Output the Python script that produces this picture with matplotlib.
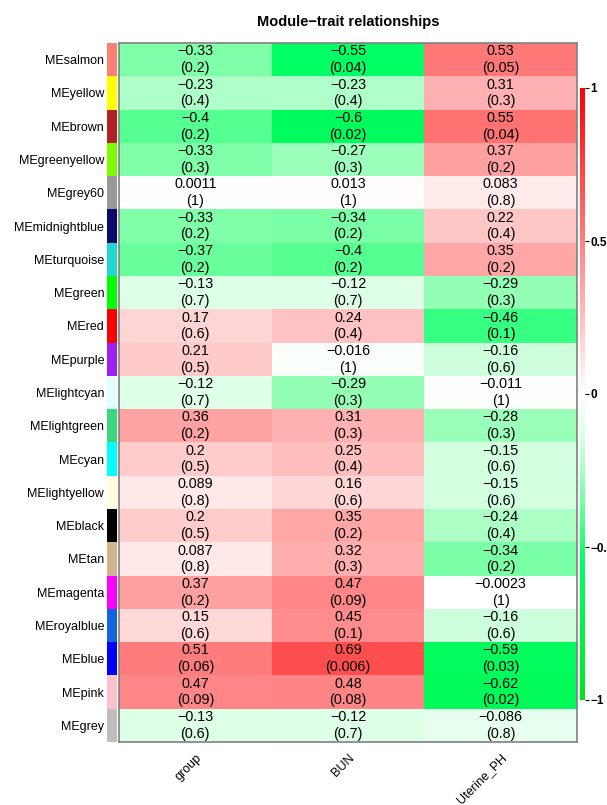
import numpy as np
import matplotlib
matplotlib.use("Agg")
import matplotlib.pyplot as plt
from matplotlib.colors import LinearSegmentedColormap

plt.rcParams['font.family'] = ['Liberation Sans', 'DejaVu Sans']

modules = ['salmon', 'yellow', 'brown', 'greenyellow', 'grey60', 'midnightblue',
           'turquoise', 'green', 'red', 'purple', 'lightcyan', 'lightgreen', 'cyan',
           'lightyellow', 'black', 'tan', 'magenta', 'royalblue', 'blue', 'pink', 'grey']
module_colors = ['#fa8072', '#ffff00', '#b22222', '#7cfc00', '#999999', '#0b0b6e',
                 '#20d8d0', '#00ff00', '#ff0000', '#a020f0', '#e0ffff', '#3cd67c', '#00ffff',
                 '#fffde0', '#000000', '#d2b48c', '#ff00ff', '#1464dc', '#0000ff', '#ffc0cb', '#bebebe']
traits = ['group', 'BUN', 'Uterine_PH']

cor_group = [-0.33, -0.23, -0.4, -0.33, 0.0011, -0.33, -0.37, -0.13, 0.17, 0.21, -0.12,
             0.36, 0.2, 0.089, 0.2, 0.087, 0.37, 0.15, 0.51, 0.47, -0.13]
cor_bun = [-0.55, -0.23, -0.6, -0.27, 0.013, -0.34, -0.4, -0.12, 0.24, -0.016, -0.29,
           0.31, 0.25, 0.16, 0.35, 0.32, 0.47, 0.45, 0.69, 0.48, -0.12]
cor_ph = [0.53, 0.31, 0.55, 0.37, 0.083, 0.22, 0.35, -0.29, -0.46, -0.16, -0.011,
          -0.28, -0.15, -0.15, -0.24, -0.34, -0.0023, -0.16, -0.59, -0.62, -0.086]

p_group = ['0.2', '0.4', '0.2', '0.3', '1', '0.2', '0.2', '0.7', '0.6', '0.5', '0.7',
           '0.2', '0.5', '0.8', '0.5', '0.8', '0.2', '0.6', '0.06', '0.09', '0.6']
p_bun = ['0.04', '0.4', '0.02', '0.3', '1', '0.2', '0.2', '0.7', '0.4', '1', '0.3',
         '0.3', '0.4', '0.6', '0.2', '0.3', '0.09', '0.1', '0.006', '0.08', '0.7']
p_ph = ['0.05', '0.3', '0.04', '0.2', '0.8', '0.4', '0.2', '0.3', '0.1', '0.6', '1',
        '0.3', '0.6', '0.6', '0.4', '0.2', '1', '0.6', '0.03', '0.02', '0.8']

cors = np.column_stack([cor_group, cor_bun, cor_ph])
pvals = np.column_stack([p_group, p_bun, p_ph])

# green-white-red palette, green side saturates early
nodes = [
    (0.0, (0 / 255, 230 / 255, 30 / 255)),
    (0.225, (0 / 255, 255 / 255, 100 / 255)),
    (0.335, (130 / 255, 255 / 255, 170 / 255)),
    (0.435, (220 / 255, 255 / 255, 230 / 255)),
    (0.5, (1, 1, 1)),
    (0.75, (1, 0.5, 0.5)),
    (1.0, (1, 0, 0)),
]
cmap = LinearSegmentedColormap.from_list('gwr', nodes)

W, H = 607, 805
fig = plt.figure(figsize=(W / 100, H / 100), dpi=100)

hx0, hx1, hy0, hy1 = 119, 577, 43, 742
ax = fig.add_axes([hx0 / W, 1 - hy1 / H, (hx1 - hx0) / W, (hy1 - hy0) / H])
nrow, ncol = cors.shape
mesh = ax.pcolormesh(np.arange(ncol + 1), np.arange(nrow + 1), cors,
                     cmap=cmap, vmin=-1, vmax=1)
ax.set_xlim(0, ncol)
ax.set_ylim(nrow, 0)
ax.set_xticks([])
ax.set_yticks([])
for s in ax.spines.values():
    s.set_color('#808080')
    s.set_linewidth(1.2)

def fmt(v):
    return f'{v:.2g}'.replace('-', '\u2212')

for i in range(nrow):
    for j in range(ncol):
        ax.text(j + 0.5, i + 0.5, f'{fmt(cors[i, j])}\n({pvals[i, j]})',
                ha='center', va='center', fontsize=10.4, linespacing=1.25)

for j, t in enumerate(traits):
    ax.text(j + 0.5, nrow + 0.3, t, rotation=45, ha='right', va='top',
            rotation_mode='anchor', fontsize=9)

# module colour strip
sax = fig.add_axes([107 / W, 1 - hy1 / H, 10 / W, (hy1 - hy0) / H])
for i, c in enumerate(module_colors):
    sax.add_patch(plt.Rectangle((0, i), 1, 1, color=c, lw=0))
sax.set_xlim(0, 1)
sax.set_ylim(nrow, 0)
sax.set_xticks([])
sax.set_yticks(np.arange(nrow) + 0.5)
sax.set_yticklabels(['ME' + m for m in modules], fontsize=9)
sax.tick_params(axis='y', length=0, pad=2)
for s in sax.spines.values():
    s.set_visible(False)

ax.set_title('Module\u2212trait relationships', fontsize=10.5, fontweight='bold', pad=12)

cax = fig.add_axes([580 / W, 1 - 700 / H, 5 / W, 612 / H])
cb = fig.colorbar(mesh, cax=cax, ticks=[-1, -0.5, 0, 0.5, 1])
cb.set_ticklabels(['\u22121', '\u22120.5', '0', '0.5', '1'])
cb.outline.set_visible(False)
cax.tick_params(labelsize=8.5, length=3, width=0.8, pad=1)
for lbl in cax.get_yticklabels():
    lbl.set_fontweight('bold')

fig.savefig('out.png', dpi=100)
